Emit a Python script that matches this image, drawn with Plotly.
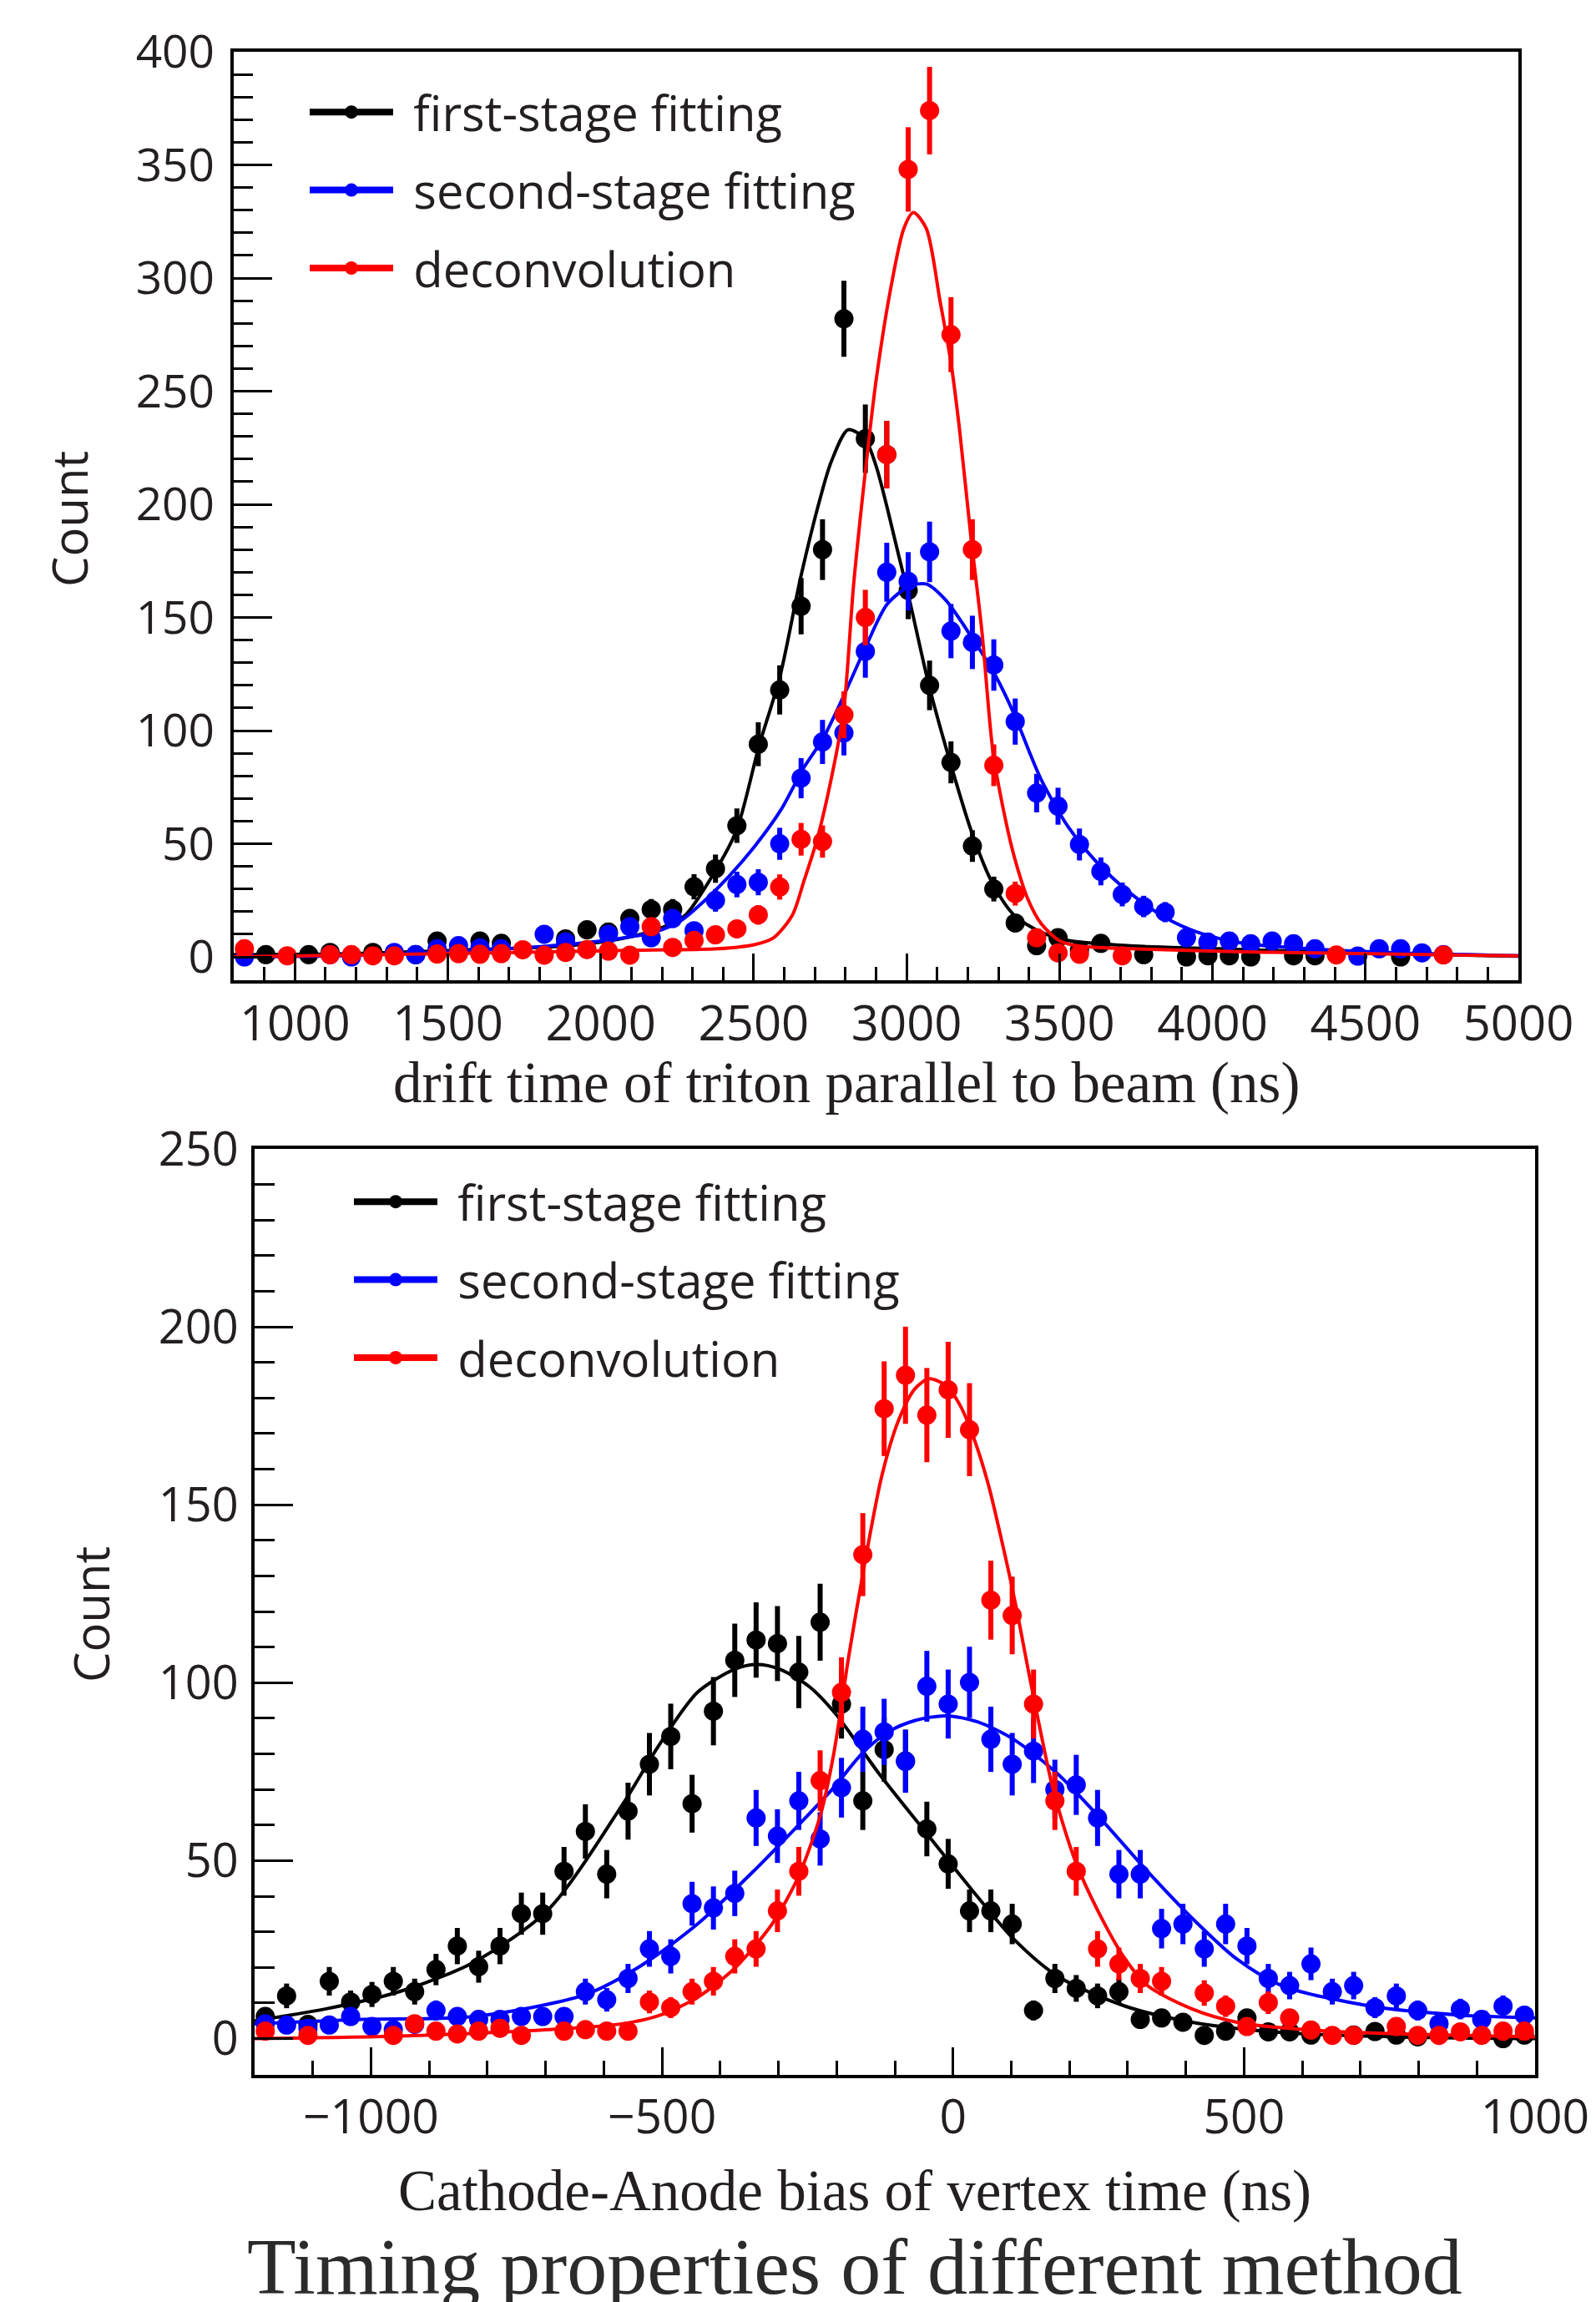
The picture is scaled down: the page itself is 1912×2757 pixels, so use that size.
import numpy as np
import plotly.graph_objects as go

# ---------------- DATA ----------------
# Top panel: drift time histogram, 60 bins from 800 to 5000 ns
top_range = [800, 5000]
top_nbins = 60
top_first = [
    None, 1, None, 1, 2, None, 2, None, 1, 7,
    None, 7, 6, None, None, 8, 12, 11, 17, 21,
    21, 31, 39, 58, 94, 118, 155, 180, 282, 229,
    222, 162, 120, 86, 49, 30, 15, 5, 8.5, 3,
    6, None, 1, None, 0, 0.5, 0.5, 0, None, 0.5,
    0.5, None, None, None, 0, None, None, None, None, None]
top_second = [
    0, None, None, None, 1, 0, None, 2, 1, 3.6,
    5, 4, 3.6, None, 10, 6.7, None, 10, 13.4, 8.5,
    17, 11.6, 25, 32, 33, 50, 79, 95, 99, 135,
    170, 166, 179, 144, 139, 129, 104, 72.4, 66.6, 49.7,
    37.8, 27.6, 22.3, 19.8, 8.5, 6.6, 7, 5.8, 7, 5.8,
    3.6, None, 0.4, 3.6, 3.6, 1.8, 1, None, None, None]
top_deconv = [
    3.6, None, 0.5, None, 1, 1, 0.5, 0.5, None, 1.3,
    1.5, 1.2, 1.5, 3.2, 0.8, 2, 3.3, 2.6, 0.8, 13.4,
    4.2, 7.3, 9.8, 12.4, 18.6, 30.9, 52, 51, 107, 150,
    222, 348, 374, 275, 180, 84.7, 28, 8.5, 1.8, 1.2,
    None, 0.5, None, None, None, None, None, None, None, None,
    None, 0.9, None, None, None, None, 0.9, None, None, None]

top_fit_first_x = [800, 1200, 1530, 1900, 2100, 2200, 2273, 2370, 2444, 2517, 2586, 2654, 2718, 2754,
                   2809, 2863, 2900, 2973, 3009, 3073, 3136, 3213, 3279, 3352, 3439, 3527, 3731, 4023,
                   4461, 5000]
top_fit_first_y = [1, 1.5, 3, 5, 9, 13, 18, 37, 56, 93, 124, 168, 203, 219,
                   233, 229, 217, 178, 158, 120, 89, 55, 33, 18.4, 11, 7.3, 4.9, 3.6,
                   1.8, 0.3]
top_fit_second_x = [800, 1165, 1530, 1835, 2017, 2176, 2261, 2346, 2419, 2504, 2589, 2663, 2727, 2791,
                    2863, 2936, 3009, 3064, 3127, 3209, 3291, 3354, 3400, 3439, 3527, 3614, 3731, 3848,
                    3950, 4097, 4316, 4608, 5000]
top_fit_second_y = [0, 0.6, 2.4, 4.9, 7.3, 11, 16, 25.7, 35.6, 49, 65, 83.5, 96.6, 114.4,
                    136, 155.8, 163.8, 164.8, 157.8, 142, 124.2, 106.5, 91, 78.6, 57.7, 43, 28.2, 17.2,
                    11, 6.1, 3.6, 1.8, 0.6]
top_fit_deconv_x = [800, 1652, 2139, 2382, 2504, 2565, 2626, 2663, 2709, 2763, 2795, 2827, 2872, 2900,
                    2946, 2991, 3022, 3064, 3109, 3145, 3173, 3209, 3246, 3282, 3322, 3352, 3396, 3440,
                    3498, 3557, 3733, 4170, 5000]
top_fit_deconv_y = [0, 1.8, 3, 3.6, 5.5, 8.5, 18.4, 33, 52.8, 85, 110, 165, 223, 254.6,
                    294, 322, 329, 322, 290, 262.5, 233, 187, 144, 91, 61.4, 44.2, 25.7, 14.7,
                    7.3, 4.9, 3.6, 2.1, 0.5]

# Bottom panel: cathode-anode bias, 60 bins from -1200 to 1000 ns
bot_range = [-1200, 1000]
bot_nbins = 60
bot_first = [
    6.2, 12, 4, 16.1, 10.3, 12.4, 16.1, 13.2, 19.4, 26,
    20.2, 26, 35.1, 35.1, 47, 58.2, 46.2, 63.9, 77.1, 84.9,
    66, 92, 106.3, 112, 111, 103, 117, 94, 66.8, 81.2,
    78, 58.9, 49.1, 35.9, 35.9, 32.2, 7.9, 16.9, 14.1, 12,
    13.2, 5.4, 5.8, 4.6, 0.9, 2.1, 5.8, 1.9, 1.9, 1,
    None, 1, 2, 1, 0.5, None, None, None, 0, 1]
bot_second = [
    4.2, 3.8, 2.9, 3.8, 6.2, 3.4, 2.5, 4, 7.9, 6.2,
    5.4, 5.4, 6.2, 6.2, 6.2, 13.2, 10.9, 16.9, 25.2, 23.1,
    37.9, 36.7, 40.8, 62, 56.9, 66.8, 56.1, 70.5, 84.1, 86.2,
    77.9, 99, 94, 100.1, 84.1, 77.1, 80.8, 70, 71.3, 62,
    46.2, 46.2, 30.9, 32.2, 25.2, 32.2, 26, 16.9, 14.9, 21,
    13.2, 14.9, 8.7, 12, 7.9, 4.2, 8.3, 5.4, 9.1, 6.6]
bot_deconv = [
    2.1, None, 0.9, None, None, None, 0.9, 4.2, 2.1, 1.3,
    2.1, 2.9, 0.9, None, 2.1, 2.5, 2.1, 2.1, 10.3, 8.7,
    13.2, 16.1, 23.1, 25.2, 35.9, 47, 72.5, 97.3, 136, 177,
    186.4, 175.2, 182.3, 171.1, 123.2, 118.9, 94, 66.8, 47, 25.2,
    21, 16.9, 16.1, None, 12.8, 9.1, 3.4, 10.1, 5.8, 2.4,
    0.9, 0.9, None, 3.4, 0.9, 0.9, 1.9, 0.9, 2.1, 2.1]

bot_fit_first_x = [-1200, -1079, -951, -823, -695, -567, -503, -439, -375, -337, -298, -247, -203,
                   -126, -50, 27, 104, 181, 296, 411, 565, 757, 1000]
bot_fit_first_y = [5, 8.3, 13.2, 21.5, 36.3, 66, 83, 97.3, 103.8, 105.1, 103.8, 98.9, 91.5,
                   74.2, 58.6, 42.9, 28, 17.4, 9.1, 4.6, 1.7, 0.5, 0]
bot_fit_second_x = [-1200, -1016, -823, -631, -535, -439, -343, -279, -203, -157, -111, -65, -11,
                    42, 104, 181, 258, 334, 411, 488, 565, 718, 872, 1000]
bot_fit_second_y = [4.2, 5.4, 6.2, 12.4, 20.6, 32.2, 47, 57.7, 70.9, 80, 86.2, 89.4, 90.7,
                    89, 84.1, 74.2, 61, 47, 33.8, 22.3, 14.9, 9.1, 6.6, 5.8]
bot_fit_deconv_x = [-1200, -951, -695, -567, -503, -439, -375, -311, -266, -228, -205, -179, -151,
                    -122, -93, -65, -41, -12, 12, 36, 60, 83, 107, 131, 150, 173, 211, 258, 296,
                    334, 411, 488, 642, 1000]
bot_fit_deconv_y = [0, 0.7, 2.5, 4.2, 6.6, 11.6, 19.8, 32.2, 45.4, 62.7, 80, 107.6, 134.2,
                    158.4, 174, 182.7, 185.4, 183.5, 178, 168.6, 156.1, 140.4, 122.4, 102.1, 86.6,
                    69.3, 49.5, 33, 22.3, 14.9, 8.3, 4.6, 2.1, 0.5]

series_names = ["first-stage fitting", "second-stage fitting", "deconvolution"]
series_colors = ["#000000", "#0000ff", "#ff0000"]

TXT = "#231f20"
SANS = "Open Sans"
SERIF = "Liberation Serif"


def centers(rng, n):
    edges = np.linspace(rng[0], rng[1], n + 1)
    return 0.5 * (edges[:-1] + edges[1:])


def arr(v):
    return np.array([np.nan if a is None else a for a in v], dtype=float)


fig = go.Figure()

panels = [
    dict(xa="x", ya="y", leg="legend", rng=top_range, n=top_nbins,
         data=[top_first, top_second, top_deconv],
         fits=[(top_fit_first_x, top_fit_first_y), (top_fit_second_x, top_fit_second_y),
               (top_fit_deconv_x, top_fit_deconv_y)]),
    dict(xa="x2", ya="y2", leg="legend2", rng=bot_range, n=bot_nbins,
         data=[bot_first, bot_second, bot_deconv],
         fits=[(bot_fit_first_x, bot_fit_first_y), (bot_fit_second_x, bot_fit_second_y),
               (bot_fit_deconv_x, bot_fit_deconv_y)]),
]

for p in panels:
    xc = centers(p["rng"], p["n"])
    for k in range(3):
        y = arr(p["data"][k])
        err = np.sqrt(np.clip(y, 0, None))
        col = series_colors[k]
        fig.add_trace(go.Scatter(
            x=xc, y=y, mode="markers", xaxis=p["xa"], yaxis=p["ya"], showlegend=False,
            marker=dict(color=col, size=23, line=dict(width=0)),
            error_y=dict(type="data", array=err, visible=True, color=col, thickness=6, width=0),
            hoverinfo="skip"))
        fx, fy = p["fits"][k]
        fig.add_trace(go.Scatter(
            x=fx, y=fy, mode="lines", xaxis=p["xa"], yaxis=p["ya"], showlegend=False,
            line=dict(color=col, width=4, shape="spline", smoothing=0.8),
            hoverinfo="skip"))
    for k in range(3):
        col = series_colors[k]
        fig.add_trace(go.Scatter(
            x=[None], y=[None], mode="lines+markers", xaxis=p["xa"], yaxis=p["ya"],
            name="\u2009\u2009" + series_names[k], legend=p["leg"], legendgroup=p["leg"] + str(k),
            line=dict(color=col, width=8), marker=dict(color=col, size=22)))

W, H = 1912, 2757


def px_x(v):
    return v / W


def px_y(v):
    return 1 - v / H


axis_common = dict(showline=True, linewidth=4, linecolor="black", mirror=True,
                   ticks="inside", tickwidth=3, tickcolor="black", showgrid=False,
                   zeroline=False, automargin=False)

fig.update_layout(
    width=W, height=H, margin=dict(l=0, r=0, t=0, b=0),
    paper_bgcolor="white", plot_bgcolor="white", showlegend=True,
    xaxis=dict(domain=[px_x(280), px_x(1819)], range=top_range, anchor="y",
               tick0=0, dtick=500, ticklen=32, ticklabelstandoff=-2,
               tickfont=dict(family=SANS, size=58, color=TXT),
               minor=dict(ticks="inside", dtick=100, ticklen=16, tickwidth=3, tickcolor="black"),
               **axis_common),
    yaxis=dict(domain=[px_y(1174), px_y(62)], range=[-10.3, 400], anchor="x",
               tick0=0, dtick=50, ticklen=46, ticklabelstandoff=8,
               tickfont=dict(family=SANS, size=55, color=TXT),
               minor=dict(ticks="inside", dtick=10, ticklen=23, tickwidth=3, tickcolor="black"),
               **axis_common),
    xaxis2=dict(domain=[px_x(305), px_x(1839)], range=bot_range, anchor="y2",
                tick0=0, dtick=500, ticklen=33, ticklabelstandoff=-2,
                tickfont=dict(family=SANS, size=57, color=TXT),
                minor=dict(ticks="inside", dtick=100, ticklen=17, tickwidth=3, tickcolor="black"),
                **axis_common),
    yaxis2=dict(domain=[px_y(2485), px_y(1376)], range=[-10.2, 250], anchor="x2",
                tick0=0, dtick=50, ticklen=46, ticklabelstandoff=4,
                tickfont=dict(family=SANS, size=56, color=TXT),
                minor=dict(ticks="inside", dtick=10, ticklen=24, tickwidth=3, tickcolor="black"),
                **axis_common),
    legend=dict(x=px_x(366), y=px_y(90), xanchor="left", yanchor="top",
                bgcolor="rgba(0,0,0,0)", borderwidth=0, itemwidth=100,
                tracegroupgap=15, traceorder="grouped",
                font=dict(family=SANS, size=58, color=TXT)),
    legend2=dict(x=px_x(419), y=px_y(1395), xanchor="left", yanchor="top",
                 bgcolor="rgba(0,0,0,0)", borderwidth=0, itemwidth=100,
                 tracegroupgap=15, traceorder="grouped",
                 font=dict(family=SANS, size=58, color=TXT)),
)

annotations = [
    dict(text="Count", x=px_x(83), y=px_y(622), textangle=-90,
         font=dict(family=SANS, size=58, color=TXT)),
    dict(text="Count", x=px_x(108), y=px_y(1934), textangle=-90,
         font=dict(family=SANS, size=58, color=TXT)),
    dict(text="drift time of triton parallel to beam (ns)", x=px_x(1014), y=px_y(1297),
         font=dict(family=SERIF, size=69, color=TXT)),
    dict(text="Cathode-Anode bias of vertex time (ns)", x=px_x(1024), y=px_y(2624),
         font=dict(family=SERIF, size=69, color=TXT)),
    dict(text="Timing properties of different method", x=px_x(1024), y=px_y(2714),
         font=dict(family=SERIF, size=96, color="#2b2b2b")),
]
for a in annotations:
    a.update(xref="paper", yref="paper", showarrow=False, xanchor="center", yanchor="middle")
fig.update_layout(annotations=annotations)

fig.write_html(
    "out.html",
    config={"displayModeBar": False},
    post_script="document.body.style.margin='0';document.body.style.padding='0';"
                "document.documentElement.style.overflow='hidden';",
)
